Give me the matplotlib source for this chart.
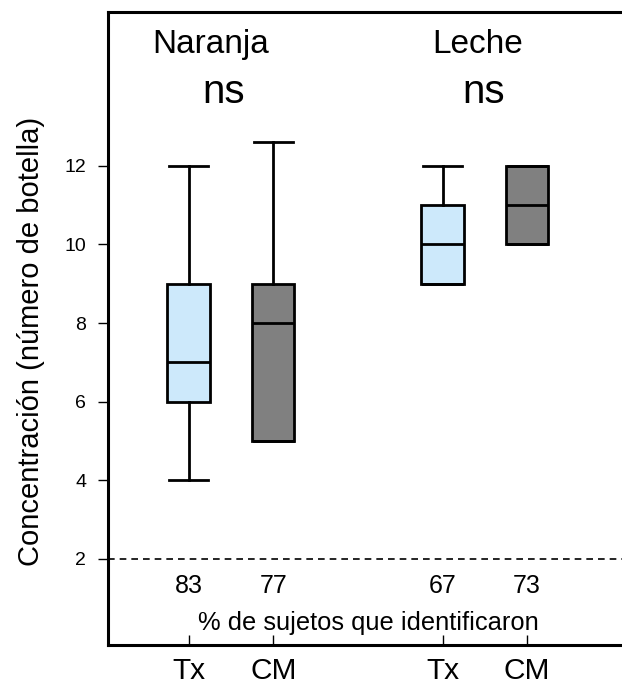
import matplotlib.pyplot as plt

plt.rcParams['font.family'] = ['Liberation Sans', 'DejaVu Sans']

# box statistics
groups = ["Naranja", "Leche"]
conditions = ["Tx", "CM", "Tx", "CM"]
positions = [1, 2, 4, 5]
whis_low = [4, 5, 9, 10]
q1 = [6, 5, 9, 10]
medians = [7, 8, 10, 11]
q3 = [9, 9, 11, 12]
whis_high = [12, 12.6, 12, 12]
percent_ident = [83, 77, 67, 73]
box_colors = ["#cde9fb", "#808080", "#cde9fb", "#808080"]

fig = plt.figure(figsize=(6.22, 6.89), dpi=100)
ax = fig.add_axes([0.174, 0.064, 0.83, 0.919])

stats = []
for i in range(4):
    stats.append({"whislo": whis_low[i], "q1": q1[i], "med": medians[i],
                  "q3": q3[i], "whishi": whis_high[i], "fliers": []})

bp = ax.bxp(stats, positions=positions, widths=0.5, patch_artist=True,
            showfliers=False,
            boxprops=dict(linewidth=2, edgecolor="black"),
            medianprops=dict(linewidth=2, color="black"),
            whiskerprops=dict(linewidth=2, color="black"),
            capprops=dict(linewidth=2, color="black"),
            capwidths=0.46)
for patch, c in zip(bp["boxes"], box_colors):
    patch.set_facecolor(c)

ax.axhline(2, color="black", linestyle=(0, (4, 3)), linewidth=1.2)

# group titles and significance
ax.text(1.26, 14.88, groups[0], fontsize=24, ha="center", va="baseline")
ax.text(1.41, 13.6, "ns", fontsize=29, ha="center", va="baseline")
ax.text(4.42, 14.88, groups[1], fontsize=24, ha="center", va="baseline")
ax.text(4.49, 13.6, "ns", fontsize=29, ha="center", va="baseline")

for p, v in zip(positions, percent_ident):
    ax.text(p, 1.13, str(v), fontsize=18, ha="center", va="baseline")
ax.text(3.12, 0.19, "% de sujetos que identificaron", fontsize=18.4,
        ha="center", va="baseline")

ax.set_xlim(0.05, 6.15)
ax.set_ylim(-0.19, 15.92)
ax.set_yticks([2, 4, 6, 8, 10, 12])
ax.set_xticks(positions)
ax.set_xticklabels(conditions, fontsize=21.5)
ax.tick_params(axis="y", direction="out", length=7, width=1, labelsize=14,
               pad=9)
ax.tick_params(axis="x", direction="in", length=7, width=1, pad=9)
ax.set_ylabel("Concentración (número de botella)", fontsize=21)
ax.yaxis.set_label_coords(-0.122, 0.479)

ax.spines["right"].set_visible(False)
for s in ["left", "top", "bottom"]:
    ax.spines[s].set_linewidth(2.2)

fig.savefig("out.png", dpi=100)
